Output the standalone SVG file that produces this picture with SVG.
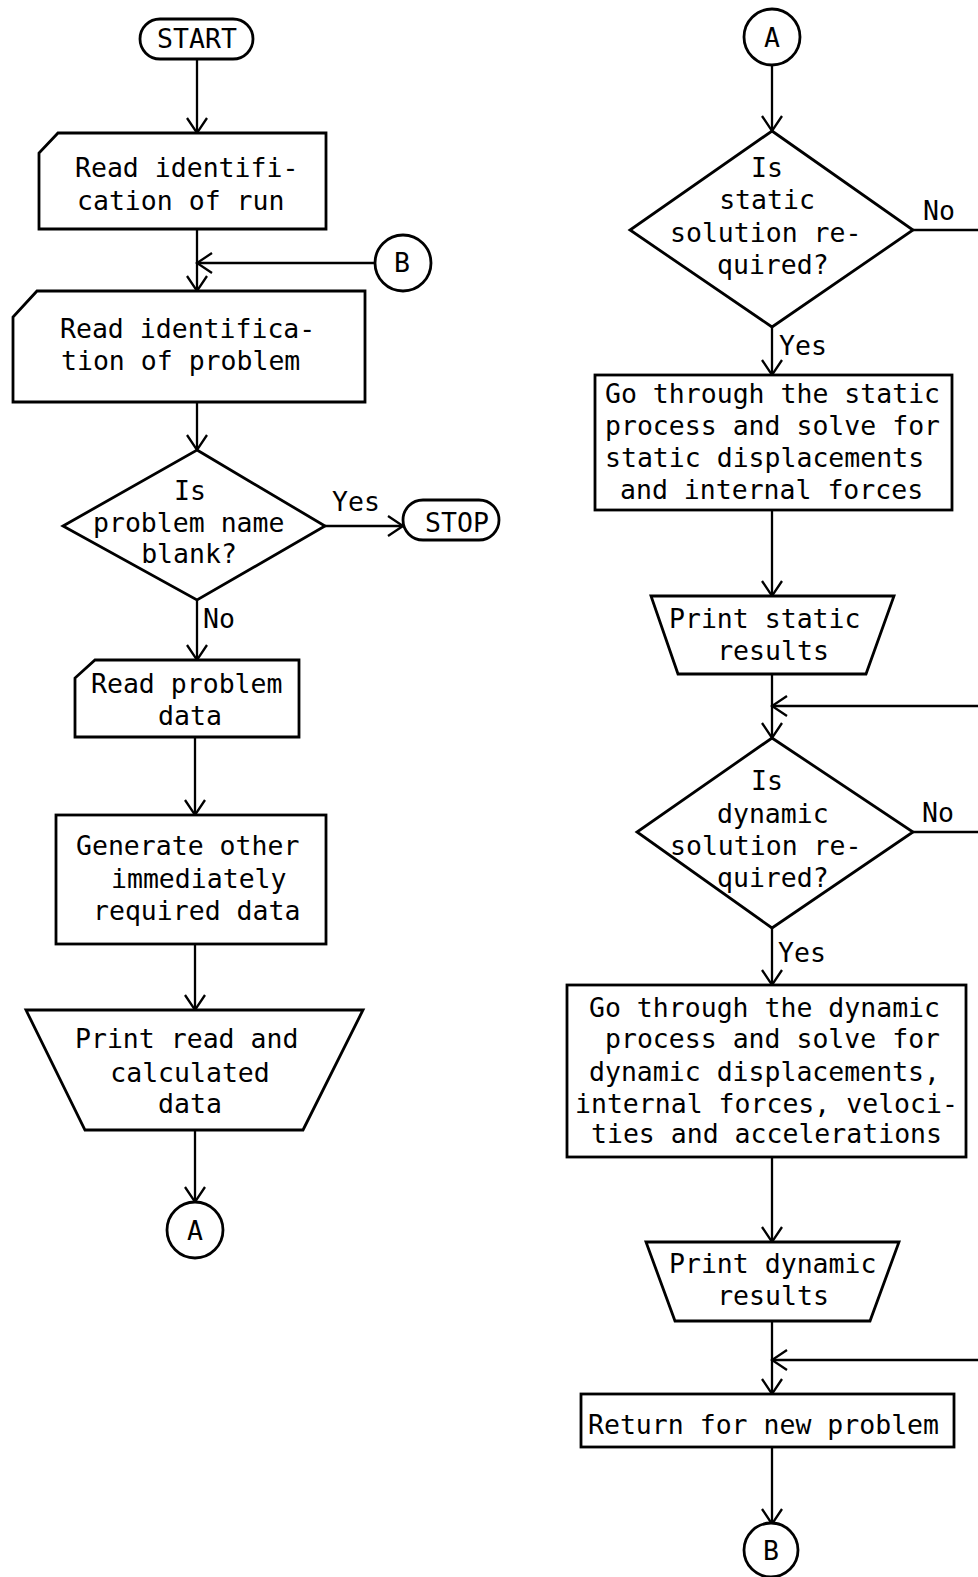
<svg xmlns="http://www.w3.org/2000/svg" width="978" height="1577" viewBox="0 0 978 1577">
  <style>
    .shape { fill: #ffffff; stroke: #000000; stroke-width: 2.8; stroke-linejoin: miter; }
    .link { fill: none; stroke: #000000; stroke-width: 2.3; }
    .t { font-family: "DejaVu Sans Mono", "Liberation Mono", monospace; font-size: 26.5px; fill: #000000; }
    .c { text-anchor: middle; }
  </style>
  <defs>
    <marker id="arrow" markerUnits="userSpaceOnUse" markerWidth="20" markerHeight="24" viewBox="-17 -12 19 24" refX="0" refY="0" orient="auto">
      <path d="M-15,-10 L0,0 L-15,10" fill="none" stroke="#000000" stroke-width="2.3"/>
    </marker>
  </defs>
  <rect width="978" height="1577" fill="#ffffff"/>

  <!-- connectors -->
  <g id="connectors">
    <line class="link" x1="197" y1="59" x2="197" y2="133" marker-end="url(#arrow)"/>
    <line class="link" x1="197" y1="229" x2="197" y2="291" marker-end="url(#arrow)"/>
    <line class="link" x1="375" y1="263" x2="197" y2="263" marker-end="url(#arrow)"/>
    <line class="link" x1="197" y1="402" x2="197" y2="450" marker-end="url(#arrow)"/>
    <line class="link" x1="325" y1="526" x2="403" y2="526" marker-end="url(#arrow)"/>
    <line class="link" x1="197" y1="600" x2="197" y2="660" marker-end="url(#arrow)"/>
    <line class="link" x1="195" y1="737" x2="195" y2="815" marker-end="url(#arrow)"/>
    <line class="link" x1="195" y1="944" x2="195" y2="1010" marker-end="url(#arrow)"/>
    <line class="link" x1="195" y1="1130" x2="195" y2="1202" marker-end="url(#arrow)"/>

    <line class="link" x1="772" y1="65" x2="772" y2="131" marker-end="url(#arrow)"/>
    <line class="link" x1="913" y1="230" x2="978" y2="230"/>
    <line class="link" x1="772" y1="327" x2="772" y2="375" marker-end="url(#arrow)"/>
    <line class="link" x1="772" y1="510" x2="772" y2="596" marker-end="url(#arrow)"/>
    <line class="link" x1="772" y1="674" x2="772" y2="738" marker-end="url(#arrow)"/>
    <line class="link" x1="978" y1="706" x2="772" y2="706" marker-end="url(#arrow)"/>
    <line class="link" x1="913" y1="832" x2="978" y2="832"/>
    <line class="link" x1="772" y1="928" x2="772" y2="985" marker-end="url(#arrow)"/>
    <line class="link" x1="772" y1="1157" x2="772" y2="1242" marker-end="url(#arrow)"/>
    <line class="link" x1="772" y1="1321" x2="772" y2="1394" marker-end="url(#arrow)"/>
    <line class="link" x1="978" y1="1360" x2="772" y2="1360" marker-end="url(#arrow)"/>
    <line class="link" x1="772" y1="1447" x2="772" y2="1524" marker-end="url(#arrow)"/>

    <text class="t" x="332" y="511">Yes</text>
    <text class="t" x="203" y="628">No</text>
    <text class="t" x="923" y="220">No</text>
    <text class="t" x="779" y="355">Yes</text>
    <text class="t" x="922" y="822">No</text>
    <text class="t" x="778" y="962">Yes</text>
  </g>

  <!-- left column -->
  <g id="start">
    <rect class="shape" x="140" y="19" width="113" height="40" rx="20" ry="20"/>
    <text class="t c" x="197" y="48">START</text>
  </g>

  <g id="read-run">
    <polygon class="shape" points="58,133 326,133 326,229 39,229 39,153"/>
    <text class="t" x="75" y="177">Read identifi-</text>
    <text class="t" x="77" y="210">cation of run</text>
  </g>

  <g id="connector-b-in">
    <circle class="shape" cx="403" cy="263" r="28"/>
    <text class="t c" x="402" y="272">B</text>
  </g>

  <g id="read-problem-id">
    <polygon class="shape" points="37,291 365,291 365,402 13,402 13,317"/>
    <text class="t" x="60" y="338">Read identifica-</text>
    <text class="t" x="61" y="370">tion of problem</text>
  </g>

  <g id="blank-check">
    <polygon class="shape" points="197,450 325,526 197,600 63,526"/>
    <text class="t c" x="190" y="500">Is</text>
    <text class="t" x="93" y="532">problem name</text>
    <text class="t c" x="189" y="563">blank?</text>
  </g>

  <g id="stop">
    <rect class="shape" x="403" y="500" width="96" height="40" rx="20" ry="20"/>
    <text class="t c" x="457" y="532">STOP</text>
  </g>

  <g id="read-data">
    <polygon class="shape" points="95,660 299,660 299,737 75,737 75,678"/>
    <text class="t" x="91" y="693">Read problem</text>
    <text class="t c" x="190" y="725">data</text>
  </g>

  <g id="generate">
    <rect class="shape" x="56" y="815" width="270" height="129"/>
    <text class="t" x="76" y="855">Generate other</text>
    <text class="t" x="111" y="888">immediately</text>
    <text class="t" x="93" y="920">required data</text>
  </g>

  <g id="print-data">
    <polygon class="shape" points="26,1010 363,1010 303,1130 85,1130"/>
    <text class="t" x="75" y="1048">Print read and</text>
    <text class="t c" x="190" y="1082">calculated</text>
    <text class="t c" x="190" y="1113">data</text>
  </g>

  <g id="connector-a-out">
    <circle class="shape" cx="195" cy="1230" r="28"/>
    <text class="t c" x="195" y="1240">A</text>
  </g>

  <!-- right column -->
  <g id="connector-a-in">
    <circle class="shape" cx="772" cy="37" r="28"/>
    <text class="t c" x="772" y="47">A</text>
  </g>

  <g id="static-check">
    <polygon class="shape" points="772,131 913,230 772,327 630,230"/>
    <text class="t c" x="767" y="177">Is</text>
    <text class="t c" x="767" y="209">static</text>
    <text class="t" x="670" y="242">solution re-</text>
    <text class="t" x="717" y="274">quired?</text>
  </g>

  <g id="static-solve">
    <rect class="shape" x="595" y="375" width="357" height="135"/>
    <text class="t" x="605" y="403">Go through the static</text>
    <text class="t" x="605" y="435">process and solve for</text>
    <text class="t" x="605" y="467">static displacements</text>
    <text class="t" x="620" y="499">and internal forces</text>
  </g>

  <g id="print-static">
    <polygon class="shape" points="651,596 894,596 866,674 678,674"/>
    <text class="t" x="669" y="628">Print static</text>
    <text class="t c" x="773" y="660">results</text>
  </g>

  <g id="dynamic-check">
    <polygon class="shape" points="772,738 913,832 772,928 637,832"/>
    <text class="t c" x="767" y="790">Is</text>
    <text class="t" x="717" y="823">dynamic</text>
    <text class="t" x="670" y="855">solution re-</text>
    <text class="t" x="717" y="887">quired?</text>
  </g>

  <g id="dynamic-solve">
    <rect class="shape" x="567" y="985" width="399" height="172"/>
    <text class="t" x="589" y="1017">Go through the dynamic</text>
    <text class="t" x="605" y="1048">process and solve for</text>
    <text class="t" x="589" y="1081">dynamic displacements,</text>
    <text class="t" x="575" y="1113">internal forces, veloci-</text>
    <text class="t" x="591" y="1143">ties and accelerations</text>
  </g>

  <g id="print-dynamic">
    <polygon class="shape" points="646,1242 899,1242 870,1321 675,1321"/>
    <text class="t" x="669" y="1273">Print dynamic</text>
    <text class="t c" x="773" y="1305">results</text>
  </g>

  <g id="return">
    <rect class="shape" x="581" y="1394" width="373" height="53"/>
    <text class="t" x="588" y="1434">Return for new problem</text>
  </g>

  <g id="connector-b-out">
    <circle class="shape" cx="771" cy="1550" r="27"/>
    <text class="t c" x="771" y="1560">B</text>
  </g>
</svg>
